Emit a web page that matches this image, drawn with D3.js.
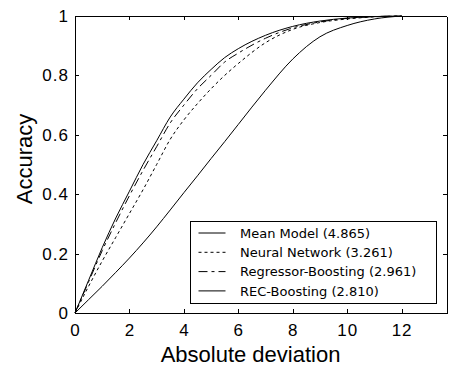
<!DOCTYPE html>
<html>
<head>
<meta charset="utf-8">
<script src="https://cdn.jsdelivr.net/npm/d3@7"></script>
<style>
body { margin: 0; background: #fff; }
svg { display: block; }
.axis text { font-family: "Liberation Sans", Arial, sans-serif; font-size: 17px; letter-spacing: 1px; fill: #000; }
.axis path, .axis line { stroke: #000; shape-rendering: crispEdges; }
</style>
</head>
<body>
<svg id="svg"></svg>
<script>
var width = 449, height = 367;
var margin = {top: 16, bottom: 54, right: 2.5, left: 75};
var w = width - margin.left - margin.right, h = height - margin.top - margin.bottom;

// x values (absolute deviation)
var devs = [0, 0.5, 1, 1.5, 2, 2.5, 3, 3.5, 4, 4.5, 5, 5.5, 6, 7, 8, 9, 10, 11, 12];
// accuracy at each deviation
var meanModel = [0, 0.045, 0.09, 0.137, 0.185, 0.236, 0.29, 0.347, 0.405, 0.462, 0.52, 0.577, 0.635, 0.75, 0.855, 0.93, 0.968, 0.99, 1];
var neuralNet = [0, 0.09, 0.175, 0.255, 0.335, 0.415, 0.5, 0.585, 0.65, 0.705, 0.755, 0.8, 0.84, 0.91, 0.955, 0.978, 0.99, 0.997, 1];
var regBoost = [0, 0.105, 0.21, 0.305, 0.395, 0.48, 0.56, 0.64, 0.70, 0.755, 0.80, 0.845, 0.875, 0.925, 0.96, 0.98, 0.992, 0.998, 1];
var recBoost = [0, 0.11, 0.22, 0.32, 0.41, 0.5, 0.58, 0.66, 0.72, 0.775, 0.82, 0.86, 0.89, 0.935, 0.965, 0.983, 0.993, 0.998, 1];

var names = ["Mean Model (4.865)", "Neural Network (3.261)", "Regressor-Boosting (2.961)", "REC-Boosting (2.810)"];
var dashes = ["none", "3,3", "9,4,3,4", "none"];
var xTicks = [0, 2, 4, 6, 8, 10, 12];
var yTicks = [0, 0.2, 0.4, 0.6, 0.8, 1];

var series = [meanModel, neuralNet, regBoost, recBoost];

var svg = d3.select("#svg")
	.attr("width", width)
	.attr("height", height);

var g = svg.append("g")
	.attr("transform", "translate(" + margin.left + "," + margin.top + ")");

var x = d3.scaleLinear().domain([0, 13.65]).range([0, w]);
var y = d3.scaleLinear().domain([0, 1]).range([h, 0]);

var line = d3.line()
	.x(function(d, i) { return x(devs[i]); })
	.y(function(d) { return y(d); })
	.curve(d3.curveMonotoneX);

g.selectAll(".curve")
	.data(series)
	.enter()
	.append("path")
	.attr("class", "curve")
	.attr("d", line)
	.attr("fill", "none")
	.attr("stroke", "#000")
	.attr("stroke-width", 1)
	.attr("stroke-dasharray", function(d, i) { return dashes[i]; });

// box with inward ticks, like matlab
g.append("g")
	.attr("class", "axis")
	.attr("transform", "translate(0," + h + ")")
	.call(d3.axisBottom(x).tickValues(xTicks).tickSizeInner(-4).tickSizeOuter(0).tickPadding(11).tickFormat(d3.format("d")));

g.append("g")
	.attr("class", "axis")
	.call(d3.axisLeft(y).tickValues(yTicks).tickSizeInner(-4).tickSizeOuter(0).tickPadding(6).tickFormat(function(d) { return d === 0 || d === 1 ? d : d.toFixed(1); }));

g.append("g")
	.attr("class", "axis")
	.call(d3.axisTop(x).tickValues(xTicks).tickSizeInner(-4).tickSizeOuter(0).tickFormat(""));

g.append("g")
	.attr("class", "axis")
	.attr("transform", "translate(" + w + ",0)")
	.call(d3.axisRight(y).tickValues(yTicks).tickSizeInner(-4).tickSizeOuter(0).tickFormat(""));

svg.append("text")
	.attr("x", margin.left + x(6.45))
	.attr("y", 362)
	.attr("text-anchor", "middle")
	.attr("font-family", "Liberation Sans, Arial, sans-serif")
	.attr("font-size", 22)
	.text("Absolute deviation");

svg.append("text")
	.attr("transform", "translate(32,159) rotate(-90)")
	.attr("text-anchor", "middle")
	.attr("font-family", "Liberation Sans, Arial, sans-serif")
	.attr("font-size", 22)
	.text("Accuracy");

// legend
var legend = svg.append("g")
	.attr("transform", "translate(190.5,221.5)");

legend.append("rect")
	.attr("width", 245.5)
	.attr("height", 81.5)
	.attr("fill", "#fff")
	.attr("stroke", "#000")
	.attr("shape-rendering", "crispEdges");

var item = legend.selectAll(".item")
	.data(names)
	.enter()
	.append("g")
	.attr("transform", function(d, i) { return "translate(0," + (11.5 + i * 19.3) + ")"; });

item.append("line")
	.attr("x1", 8)
	.attr("x2", 35)
	.attr("stroke", "#000")
	.attr("stroke-dasharray", function(d, i) { return dashes[i]; });

item.append("text")
	.attr("x", 49.5)
	.attr("dy", "0.36em")
	.attr("font-family", "DejaVu Sans, sans-serif")
	.attr("font-size", 13)
	.text(function(d) { return d; });
</script>
</body>
</html>
